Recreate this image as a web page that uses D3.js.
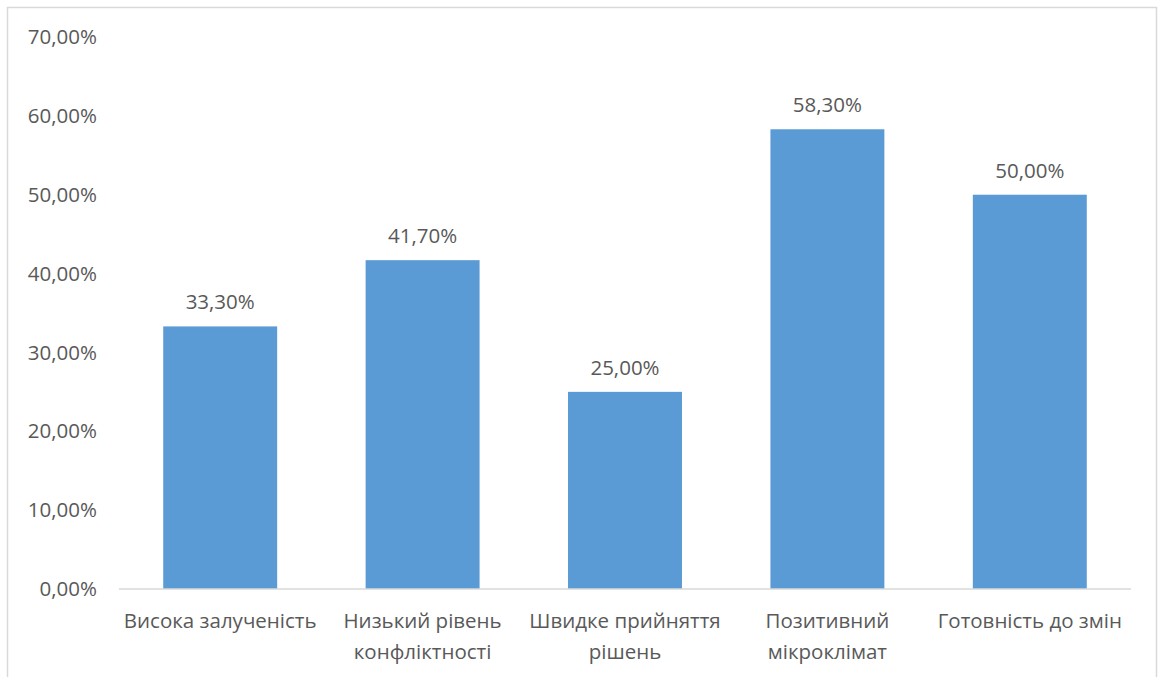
<!DOCTYPE html>
<html>
<head>
<meta charset="utf-8">
<script src="https://cdn.jsdelivr.net/npm/d3@7"></script>
<style>
  body { margin: 0; background: #fff; }
  svg text { font-family: "Open Sans", "Noto Sans", sans-serif; fill: #595959; }
</style>
</head>
<body>
<svg id="chart" width="1158" height="677"></svg>
<script>
var categories = [
  ["Висока залученість"],
  ["Низький рівень", "конфліктності"],
  ["Швидке прийняття", "рішень"],
  ["Позитивний", "мікроклімат"],
  ["Готовність до змін"]
];
var values = [33.3, 41.7, 25.0, 58.3, 50.0];
var yTicks = [0, 10, 20, 30, 40, 50, 60, 70];

var svg = d3.select('#chart');

// outer frame
svg.append('rect')
  .attr('x', 7.5).attr('y', 7.5)
  .attr('width', 1149).attr('height', 690)
  .attr('fill', 'none')
  .attr('stroke', '#d9d9d9')
  .attr('stroke-width', 1.5);

var plotLeft = 119, plotRight = 1131, plotTop = 37, plotBottom = 589;

var x = d3.scaleBand()
  .domain(d3.range(values.length))
  .range([plotLeft, plotRight])
  .paddingInner(0.437)
  .paddingOuter(0.2185);

var y = d3.scaleLinear().domain([0, 70]).range([plotBottom, plotTop]);

function fmt(v) { return v.toFixed(2).replace('.', ',') + '%'; }

// y labels
svg.append('g').selectAll('text')
  .data(yTicks).enter().append('text')
  .attr('x', 97)
  .attr('y', function (d) { return y(d); })
  .attr('dy', '0.35em')
  .attr('text-anchor', 'end')
  .style('font-size', '20.5px')
  .text(fmt);

// bars
svg.append('g').selectAll('rect')
  .data(values).enter().append('rect')
  .attr('x', function (d, i) { return x(i); })
  .attr('y', function (d) { return y(d); })
  .attr('width', x.bandwidth())
  .attr('height', function (d) { return y(0) - y(d); })
  .attr('fill', '#5b9bd5');

// baseline
svg.append('line')
  .attr('x1', plotLeft).attr('x2', plotRight)
  .attr('y1', plotBottom).attr('y2', plotBottom)
  .attr('stroke', '#d9d9d9')
  .attr('stroke-width', 1.5);

// value labels
svg.append('g').selectAll('text')
  .data(values).enter().append('text')
  .attr('x', function (d, i) { return x(i) + x.bandwidth() / 2; })
  .attr('y', function (d) { return y(d) - 17; })
  .attr('text-anchor', 'middle')
  .style('font-size', '20.5px')
  .text(fmt);

// category labels
var cat = svg.append('g').selectAll('text')
  .data(categories).enter().append('text')
  .attr('text-anchor', 'middle')
  .style('font-size', '20.5px');
cat.each(function (lines, i) {
  var t = d3.select(this);
  lines.forEach(function (s, j) {
    t.append('tspan')
      .attr('x', x(i) + x.bandwidth() / 2)
      .attr('y', 628 + j * 31)
      .text(s);
  });
});
</script>
</body>
</html>
